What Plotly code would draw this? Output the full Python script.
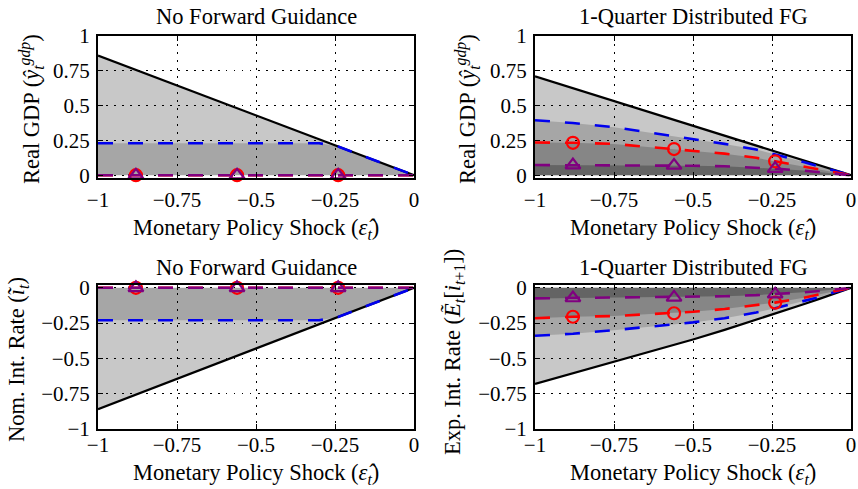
import plotly.graph_objects as go

# Shock grid (x axis) and the points that carry markers
shock = [-1, -0.88, -0.75, -0.56, -0.5, -0.4, -0.3, -0.24, -0.15, -0.1, -0.05, 0]
marker_idx = [1, 3, 7]

x_ticks = [-1, -0.75, -0.5, -0.25, 0]
x_ticktext = ["−1", "−0.75", "−0.5", "−0.25", "0"]
y_ticks_pos = [0, 0.25, 0.5, 0.75, 1]
y_ticktext_pos = ["0", "0.25", "0.5", "0.75", "1"]
y_ticks_neg = [-1, -0.75, -0.5, -0.25, 0]
y_ticktext_neg = ["−1", "−0.75", "−0.5", "−0.25", "0"]

# No forward guidance: real GDP
nofg_gdp_solid = [0.86, 0.757, 0.645, 0.482, 0.43, 0.344, 0.258, 0.206, 0.129, 0.086, 0.043, 0]
nofg_gdp_blue = [0.23, 0.23, 0.23, 0.23, 0.23, 0.23, 0.23, 0.206, 0.129, 0.086, 0.043, 0]
nofg_gdp_red = [0, 0, 0, 0, 0, 0, 0, 0, 0, 0, 0, 0]
nofg_gdp_purple = [0, 0, 0, 0, 0, 0, 0, 0, 0, 0, 0, 0]

# 1-quarter distributed FG: real GDP
fg_gdp_solid = [0.71, 0.625, 0.533, 0.398, 0.355, 0.284, 0.213, 0.17, 0.107, 0.071, 0.036, 0]
fg_gdp_blue = [0.395, 0.375, 0.345, 0.28, 0.26, 0.225, 0.185, 0.15, 0.095, 0.062, 0.03, 0]
fg_gdp_red = [0.235, 0.233, 0.225, 0.188, 0.175, 0.155, 0.125, 0.10, 0.065, 0.04, 0.018, 0]
fg_gdp_purple = [0.073, 0.073, 0.072, 0.07, 0.068, 0.064, 0.055, 0.047, 0.033, 0.022, 0.01, 0]

# No forward guidance: nominal interest rate
nofg_rate_solid = [-0.86, -0.757, -0.645, -0.482, -0.43, -0.344, -0.258, -0.206, -0.129, -0.086, -0.043, 0]
nofg_rate_blue = [-0.23, -0.23, -0.23, -0.23, -0.23, -0.23, -0.23, -0.206, -0.129, -0.086, -0.043, 0]
nofg_rate_red = [0, 0, 0, 0, 0, 0, 0, 0, 0, 0, 0, 0]
nofg_rate_purple = [0, 0, 0, 0, 0, 0, 0, 0, 0, 0, 0, 0]

# 1-quarter distributed FG: expected interest rate
fg_rate_solid = [-0.68, -0.605, -0.525, -0.405, -0.366, -0.298, -0.227, -0.183, -0.116, -0.078, -0.039, 0]
fg_rate_blue = [-0.34, -0.325, -0.3, -0.255, -0.245, -0.215, -0.175, -0.145, -0.095, -0.065, -0.03, 0]
fg_rate_red = [-0.215, -0.205, -0.2, -0.18, -0.17, -0.15, -0.125, -0.105, -0.07, -0.045, -0.02, 0]
fg_rate_purple = [-0.075, -0.072, -0.07, -0.068, -0.066, -0.06, -0.052, -0.045, -0.032, -0.022, -0.01, 0]

FONT = "Times New Roman, Liberation Serif, DejaVu Serif, serif"
FS = 21          # tick labels
FS_LAB = 22.5    # titles and axis labels
BLUE = "#0000ee"
RED = "#ff0000"
PURPLE = "#800080"
DASH = "15px,15px"
SHADES = [0.216, 0.17, 0.19, 0.25]   # stacked black fills

W, H = 858, 489
x_dom = [(98 / W, 414 / W), (535 / W, 851 / W)]
y_dom = [(1 - 178 / H, 1 - 36 / H), (1 - 429 / H, 1 - 285 / H)]

panels = [
    # (axis index, col, row, series, y range, y ticks)
    (1, 0, 0, (nofg_gdp_solid, nofg_gdp_blue, nofg_gdp_red, nofg_gdp_purple), [-0.02, 1], y_ticks_pos, y_ticktext_pos),
    (2, 1, 0, (fg_gdp_solid, fg_gdp_blue, fg_gdp_red, fg_gdp_purple), [-0.02, 1], y_ticks_pos, y_ticktext_pos),
    (3, 0, 1, (nofg_rate_solid, nofg_rate_blue, nofg_rate_red, nofg_rate_purple), [-1, 0.02], y_ticks_neg, y_ticktext_neg),
    (4, 1, 1, (fg_rate_solid, fg_rate_blue, fg_rate_red, fg_rate_purple), [-1, 0.02], y_ticks_neg, y_ticktext_neg),
]

fig = go.Figure()
layout = {}

for k, col, row, series, yr, yt, ytt in panels:
    xa = "x" if k == 1 else f"x{k}"
    ya = "y" if k == 1 else f"y{k}"
    solid, blue, red, purple = series

    # shaded bands, layered toward zero
    for s, a in zip(series, SHADES):
        fig.add_trace(go.Scatter(x=shock, y=s, mode="lines", fill="tozeroy",
                                 fillcolor=f"rgba(0,0,0,{a})", line=dict(width=0),
                                 hoverinfo="skip", showlegend=False, xaxis=xa, yaxis=ya))

    fig.add_trace(go.Scatter(x=shock, y=solid, mode="lines",
                             line=dict(color="black", width=2.2),
                             showlegend=False, xaxis=xa, yaxis=ya, cliponaxis=False))
    for s, c in ((blue, BLUE), (red, RED), (purple, PURPLE)):
        fig.add_trace(go.Scatter(x=shock, y=s, mode="lines",
                                 line=dict(color=c, width=2.6, dash=DASH),
                                 showlegend=False, xaxis=xa, yaxis=ya))
    fig.add_trace(go.Scatter(x=[shock[i] for i in marker_idx], y=[red[i] for i in marker_idx],
                             mode="markers", marker=dict(symbol="circle-open", size=12, color=RED,
                                                         line=dict(width=2.2, color=RED)),
                             showlegend=False, xaxis=xa, yaxis=ya, cliponaxis=False))
    fig.add_trace(go.Scatter(x=[shock[i] for i in marker_idx], y=[purple[i] for i in marker_idx],
                             mode="markers", marker=dict(symbol="triangle-up-open", size=13, color=PURPLE,
                                                         line=dict(width=2.2, color=PURPLE)),
                             showlegend=False, xaxis=xa, yaxis=ya, cliponaxis=False))

    common = dict(showline=True, linecolor="black", linewidth=2, mirror="ticks",
                  ticks="inside", ticklen=5, tickcolor="black", tickwidth=1,
                  showgrid=True, gridcolor="black", gridwidth=1, griddash="1.5px,6.5px",
                  zeroline=False, automargin=False,
                  tickfont=dict(family=FONT, size=FS, color="black"))
    layout["xaxis" if k == 1 else f"xaxis{k}"] = dict(
        common, domain=list(x_dom[col]), range=[-1, 0], anchor=ya,
        tickmode="array", tickvals=x_ticks, ticktext=x_ticktext,
        ticklabelstandoff=2 if row == 0 else -4)
    layout["yaxis" if k == 1 else f"yaxis{k}"] = dict(
        common, domain=list(y_dom[row]), range=yr, anchor=xa,
        tickmode="array", tickvals=yt, ticktext=ytt, ticklabelstandoff=2)

fig.update_layout(**layout)

ann = []
def text(x, y, s, angle=0):
    ann.append(dict(x=x / W, y=1 - y / H, xref="paper", yref="paper", text=s,
                    showarrow=False, textangle=angle, xanchor="center", yanchor="middle",
                    font=dict(family=FONT, size=FS_LAB, color="black")))

xlab = "Monetary Policy Shock (<i>ε̂</i><sub><i>t</i></sub>)"
text(256, 17, "No Forward Guidance")
text(693, 17, "1-Quarter Distributed FG")
text(256, 267, "No Forward Guidance")
text(693, 267, "1-Quarter Distributed FG")
text(256, 229, xlab)
text(693, 229, xlab)
text(256, 474, xlab)
text(693, 474, xlab)
text(31, 109, "Real GDP (<i>ŷ</i><sub><i>t</i></sub><sup><i>gdp</i></sup>)", -90)
text(467, 109, "Real GDP (<i>ŷ</i><sub><i>t</i></sub><sup><i>gdp</i></sup>)", -90)
text(18, 360, "Nom. Int. Rate (<i>ĩ</i><sub><i>t</i></sub>)", -90)
text(454, 352, "Exp. Int. Rate (<i>Ẽ</i><sub><i>t</i></sub>[<i>i</i><sub><i>t</i>+1</sub>])", -90)

fig.update_layout(width=W, height=H, margin=dict(l=0, r=0, t=0, b=0, autoexpand=False),
                  paper_bgcolor="white", plot_bgcolor="white", annotations=ann,
                  font=dict(family=FONT, size=FS, color="black"))

fig.write_html("out.html")
